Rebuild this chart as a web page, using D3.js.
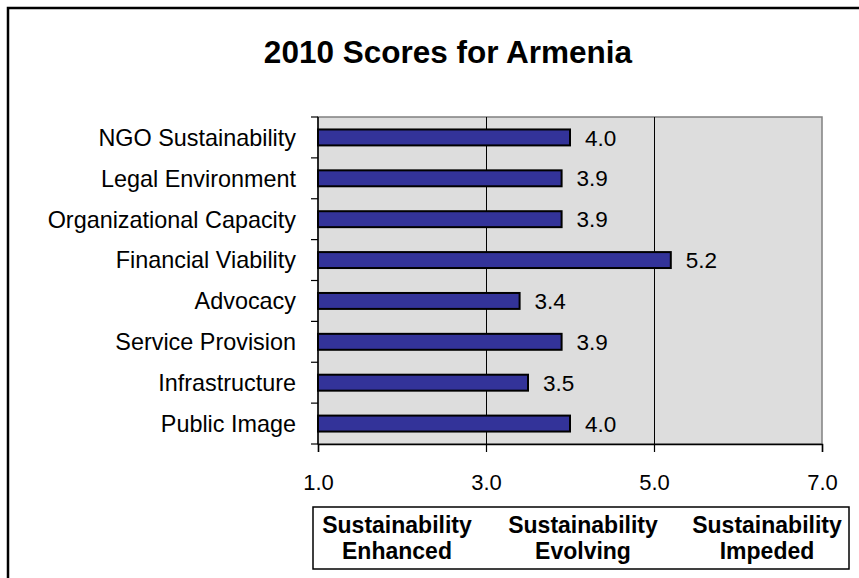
<!DOCTYPE html>
<html><head><meta charset="utf-8">
<script src="https://cdn.jsdelivr.net/npm/d3@7"></script>
<style>body{margin:0;background:#fff}svg{display:block}text{font-family:"Liberation Sans",Arial,sans-serif}</style>
</head><body>
<svg id="c" width="859" height="578"></svg>
<script>
const title = "2010 Scores for Armenia";
const categories = ["NGO Sustainability","Legal Environment","Organizational Capacity","Financial Viability","Advocacy","Service Provision","Infrastructure","Public Image"];
const values = [4.0,3.9,3.9,5.2,3.4,3.9,3.5,4.0];
const xTicks = [1,3,5,7];
const legendLines = [["Sustainability","Enhanced"],["Sustainability","Evolving"],["Sustainability","Impeded"]];

const svg = d3.select("#c");
const L = 318, R = 822, T = 117, B = 444;
const x = d3.scaleLinear().domain([1,7]).range([L,R]);
const y = d3.scaleBand().domain(categories).range([T,B]).paddingInner(0.61).paddingOuter(0.305);

// outer frame
svg.append("rect").attr("x",8).attr("y",8).attr("width",900).attr("height",700)
  .attr("fill","none").attr("stroke","#000").attr("stroke-width",2.5);

// title
svg.append("text").attr("x",448).attr("y",63).attr("text-anchor","middle")
  .attr("font-size",31.5).attr("font-weight","bold").text(title);

// plot background
svg.append("rect").attr("x",L).attr("y",T).attr("width",R-L).attr("height",B-T)
  .attr("fill","#dddddd").attr("stroke","#808080").attr("stroke-width",1.5);

// gridlines
svg.append("g").selectAll("line").data(xTicks.filter(d=>d>1&&d<7)).join("line")
  .attr("x1",d=>x(d)+0.5).attr("x2",d=>x(d)+0.5).attr("y1",T).attr("y2",B)
  .attr("stroke","#000").attr("stroke-width",1);

// bars
svg.append("g").selectAll("rect").data(values).join("rect")
  .attr("x",x(1)).attr("y",(d,i)=>y(categories[i]))
  .attr("width",d=>x(d)-x(1)).attr("height",y.bandwidth())
  .attr("fill","#333399").attr("stroke","#000").attr("stroke-width",2);

// data labels
svg.append("g").selectAll("text").data(values).join("text")
  .attr("x",d=>x(d)+15).attr("y",(d,i)=>y(categories[i])+y.bandwidth()/2)
  .attr("dy","0.36em").attr("font-size",22.5).text(d=>d.toFixed(1));

// y axis
const yBound = d3.scaleLinear().domain([0,categories.length]).range([T,B]);
const ya = svg.append("g");
ya.append("line").attr("x1",L).attr("x2",L).attr("y1",T).attr("y2",B).attr("stroke","#000").attr("stroke-width",1.5);
ya.selectAll("line.t").data(d3.range(categories.length+1)).join("line").attr("class","t")
  .attr("x1",L-7).attr("x2",L).attr("y1",d=>yBound(d)).attr("y2",d=>yBound(d)).attr("stroke","#000").attr("stroke-width",1.2);
ya.selectAll("text").data(categories).join("text")
  .attr("x",296).attr("y",d=>y(d)+y.bandwidth()/2).attr("dy","0.36em")
  .attr("text-anchor","end").attr("font-size",23.4).text(d=>d);

// x axis
const xa = svg.append("g").attr("transform",`translate(0,${B})`)
  .call(d3.axisBottom(x).tickValues(xTicks).tickSize(8).tickPadding(22).tickFormat(d3.format(".1f")));
xa.select(".domain").attr("stroke","#000").attr("stroke-width",1.5);
xa.selectAll(".tick line").attr("stroke","#000").attr("stroke-width",1.2);
xa.selectAll(".tick text").attr("font-size",22).attr("font-family","Liberation Sans, Arial, sans-serif").attr("fill","#000");

// legend box
svg.append("rect").attr("x",313).attr("y",507).attr("width",536).attr("height",62)
  .attr("fill","#fff").attr("stroke","#000").attr("stroke-width",1.5);
const legendX = [397,583,767];
legendLines.forEach((ls,i)=>{
  const t = svg.append("text").attr("text-anchor","middle").attr("font-size",23).attr("font-weight","bold");
  t.append("tspan").attr("x",legendX[i]).attr("y",533).text(ls[0]);
  t.append("tspan").attr("x",legendX[i]).attr("y",559).text(ls[1]);
});
</script>
</body></html>
